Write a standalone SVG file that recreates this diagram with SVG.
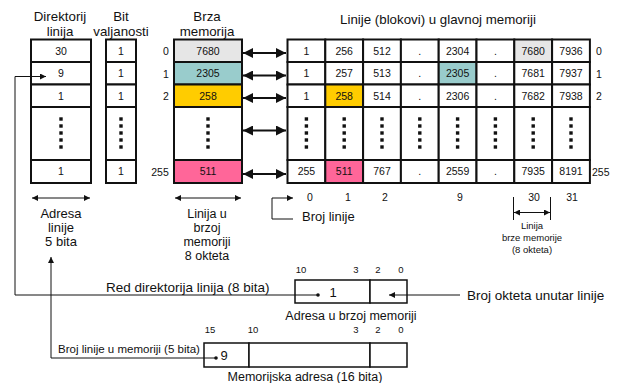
<svg xmlns="http://www.w3.org/2000/svg" width="621" height="383" viewBox="0 0 621 383">
  <style>
    text { font-family: "Liberation Sans", Arial, sans-serif; fill: #111; }
    .h { font-size: 13.3px; text-anchor: middle; }
    .c { font-size: 10.5px; text-anchor: middle; }
    .s { font-size: 9.5px; text-anchor: middle; }
    .l { font-size: 12.5px; }
    .m { text-anchor: middle; }
    .cell { fill: #fff; stroke: #111; stroke-width: 2; }
    .box { fill: #fff; stroke: #111; stroke-width: 1.5; }
    .thin { fill: none; stroke: #111; stroke-width: 1; }
    .dbl { fill: none; stroke: #111; stroke-width: 2; marker-start: url(#big); marker-end: url(#big); }
  </style>
  <defs>
    <marker id="big" viewBox="0 0 10 10" refX="10" refY="5" markerWidth="6" markerHeight="5" markerUnits="strokeWidth" orient="auto-start-reverse">
      <path d="M0,0 L10,5 L0,10 Z" fill="#111"/>
    </marker>
    <marker id="sm" viewBox="0 0 10 10" refX="10" refY="5" markerWidth="8" markerHeight="6" markerUnits="userSpaceOnUse" orient="auto-start-reverse">
      <path d="M0,0 L10,5 L0,10 Z" fill="#111"/>
    </marker>
    <!-- vertical ellipsis used in the gap rows -->
    <g id="vdots">
      <rect x="-1.7" y="-15.7" width="3.4" height="3.4" fill="#111"/>
      <rect x="-1.7" y="-8.7" width="3.4" height="3.4" fill="#111"/>
      <rect x="-1.7" y="-1.7" width="3.4" height="3.4" fill="#111"/>
      <rect x="-1.7" y="5.3" width="3.4" height="3.4" fill="#111"/>
      <rect x="-1.7" y="12.3" width="3.4" height="3.4" fill="#111"/>
    </g>
  </defs>

  <!-- column headings -->
  <g id="headings">
    <text class="h" x="60" y="21">Direktorij</text>
    <text class="h" x="60" y="36">linija</text>
    <text class="h" x="121" y="21">Bit</text>
    <text class="h" x="121" y="36">valjanosti</text>
    <text class="h" x="207" y="21">Brza</text>
    <text class="h" x="207" y="36">memorija</text>
    <text class="h" x="438" y="24">Linije (blokovi) u glavnoj memoriji</text>
  </g>

  <!-- line directory -->
  <g id="directory">
    <rect class="cell" x="31" y="39.5" width="60" height="22.5"/>
    <rect class="cell" x="31" y="62" width="60" height="22.5"/>
    <rect class="cell" x="31" y="84.5" width="60" height="22.5"/>
    <rect class="cell" x="31" y="107" width="60" height="53"/>
    <rect class="cell" x="31" y="160" width="60" height="23"/>
    <text class="c" x="61" y="54.5">30</text>
    <text class="c" x="61" y="77">9</text>
    <text class="c" x="61" y="99.5">1</text>
    <use href="#vdots" x="61" y="133"/>
    <text class="c" x="61" y="175">1</text>
  </g>

  <!-- valid bits -->
  <g id="valid">
    <rect class="cell" x="106" y="39.5" width="30" height="22.5"/>
    <rect class="cell" x="106" y="62" width="30" height="22.5"/>
    <rect class="cell" x="106" y="84.5" width="30" height="22.5"/>
    <rect class="cell" x="106" y="107" width="30" height="53"/>
    <rect class="cell" x="106" y="160" width="30" height="23"/>
    <text class="c" x="121" y="54.5">1</text>
    <text class="c" x="121" y="77">1</text>
    <text class="c" x="121" y="99.5">1</text>
    <use href="#vdots" x="121" y="133"/>
    <text class="c" x="121" y="175">1</text>
  </g>

  <!-- cache lines -->
  <g id="cache">
    <rect class="cell" x="174" y="39.5" width="68" height="22.5" style="fill:#e6e6e6"/>
    <rect class="cell" x="174" y="62" width="68" height="22.5" style="fill:#99cccc"/>
    <rect class="cell" x="174" y="84.5" width="68" height="22.5" style="fill:#ffcc00"/>
    <rect class="cell" x="174" y="107" width="68" height="53"/>
    <rect class="cell" x="174" y="160" width="68" height="23" style="fill:#ff6699"/>
    <text class="c" x="208" y="54.5">7680</text>
    <text class="c" x="208" y="77">2305</text>
    <text class="c" x="208" y="99.5">258</text>
    <use href="#vdots" x="208" y="133"/>
    <text class="c" x="208" y="175">511</text>
    <text class="c" x="166" y="55">0</text>
    <text class="c" x="166" y="77.5">1</text>
    <text class="c" x="166" y="100">2</text>
    <text class="c" x="160" y="175.5">255</text>
  </g>

  <!-- main memory blocks -->
  <g id="main-memory">
    <rect class="cell" x="287.5" y="39.5" width="37.8" height="22.5"/>
    <rect class="cell" x="287.5" y="62" width="37.8" height="22.5"/>
    <rect class="cell" x="287.5" y="84.5" width="37.8" height="22.5"/>
    <rect class="cell" x="287.5" y="107" width="37.8" height="53"/>
    <rect class="cell" x="287.5" y="160" width="37.8" height="23"/>

    <rect class="cell" x="325.3" y="39.5" width="37.8" height="22.5"/>
    <rect class="cell" x="325.3" y="62" width="37.8" height="22.5"/>
    <rect class="cell" x="325.3" y="84.5" width="37.8" height="22.5" style="fill:#ffcc00"/>
    <rect class="cell" x="325.3" y="107" width="37.8" height="53"/>
    <rect class="cell" x="325.3" y="160" width="37.8" height="23" style="fill:#ff6699"/>

    <rect class="cell" x="363.1" y="39.5" width="37.8" height="22.5"/>
    <rect class="cell" x="363.1" y="62" width="37.8" height="22.5"/>
    <rect class="cell" x="363.1" y="84.5" width="37.8" height="22.5"/>
    <rect class="cell" x="363.1" y="107" width="37.8" height="53"/>
    <rect class="cell" x="363.1" y="160" width="37.8" height="23"/>

    <rect class="cell" x="400.9" y="39.5" width="37.8" height="22.5"/>
    <rect class="cell" x="400.9" y="62" width="37.8" height="22.5"/>
    <rect class="cell" x="400.9" y="84.5" width="37.8" height="22.5"/>
    <rect class="cell" x="400.9" y="107" width="37.8" height="53"/>
    <rect class="cell" x="400.9" y="160" width="37.8" height="23"/>

    <rect class="cell" x="438.7" y="39.5" width="37.8" height="22.5"/>
    <rect class="cell" x="438.7" y="62" width="37.8" height="22.5" style="fill:#99cccc"/>
    <rect class="cell" x="438.7" y="84.5" width="37.8" height="22.5"/>
    <rect class="cell" x="438.7" y="107" width="37.8" height="53"/>
    <rect class="cell" x="438.7" y="160" width="37.8" height="23"/>

    <rect class="cell" x="476.5" y="39.5" width="37.8" height="22.5"/>
    <rect class="cell" x="476.5" y="62" width="37.8" height="22.5"/>
    <rect class="cell" x="476.5" y="84.5" width="37.8" height="22.5"/>
    <rect class="cell" x="476.5" y="107" width="37.8" height="53"/>
    <rect class="cell" x="476.5" y="160" width="37.8" height="23"/>

    <rect class="cell" x="514.3" y="39.5" width="37.8" height="22.5" style="fill:#e6e6e6"/>
    <rect class="cell" x="514.3" y="62" width="37.8" height="22.5"/>
    <rect class="cell" x="514.3" y="84.5" width="37.8" height="22.5"/>
    <rect class="cell" x="514.3" y="107" width="37.8" height="53"/>
    <rect class="cell" x="514.3" y="160" width="37.8" height="23"/>

    <rect class="cell" x="552.1" y="39.5" width="37.8" height="22.5"/>
    <rect class="cell" x="552.1" y="62" width="37.8" height="22.5"/>
    <rect class="cell" x="552.1" y="84.5" width="37.8" height="22.5"/>
    <rect class="cell" x="552.1" y="107" width="37.8" height="53"/>
    <rect class="cell" x="552.1" y="160" width="37.8" height="23"/>

    <!-- row 0 -->
    <text class="c" x="306.4" y="54.5">1</text>
    <text class="c" x="344.2" y="54.5">256</text>
    <text class="c" x="382" y="54.5">512</text>
    <text class="c" x="419.8" y="54.5">.</text>
    <text class="c" x="457.6" y="54.5">2304</text>
    <text class="c" x="495.4" y="54.5">.</text>
    <text class="c" x="533.2" y="54.5">7680</text>
    <text class="c" x="571" y="54.5">7936</text>
    <!-- row 1 -->
    <text class="c" x="306.4" y="77">1</text>
    <text class="c" x="344.2" y="77">257</text>
    <text class="c" x="382" y="77">513</text>
    <text class="c" x="419.8" y="77">.</text>
    <text class="c" x="457.6" y="77">2305</text>
    <text class="c" x="495.4" y="77">.</text>
    <text class="c" x="533.2" y="77">7681</text>
    <text class="c" x="571" y="77">7937</text>
    <!-- row 2 -->
    <text class="c" x="306.4" y="99.5">1</text>
    <text class="c" x="344.2" y="99.5">258</text>
    <text class="c" x="382" y="99.5">514</text>
    <text class="c" x="419.8" y="99.5">.</text>
    <text class="c" x="457.6" y="99.5">2306</text>
    <text class="c" x="495.4" y="99.5">.</text>
    <text class="c" x="533.2" y="99.5">7682</text>
    <text class="c" x="571" y="99.5">7938</text>
    <!-- gap rows -->
    <use href="#vdots" x="306.4" y="133"/>
    <use href="#vdots" x="344.2" y="133"/>
    <use href="#vdots" x="382" y="133"/>
    <use href="#vdots" x="419.8" y="133"/>
    <use href="#vdots" x="457.6" y="133"/>
    <use href="#vdots" x="495.4" y="133"/>
    <use href="#vdots" x="533.2" y="133"/>
    <use href="#vdots" x="571" y="133"/>
    <!-- row 255 -->
    <text class="c" x="306.4" y="175">255</text>
    <text class="c" x="344.2" y="175">511</text>
    <text class="c" x="382" y="175">767</text>
    <text class="c" x="419.8" y="175">.</text>
    <text class="c" x="457.6" y="175">2559</text>
    <text class="c" x="495.4" y="175">.</text>
    <text class="c" x="533.2" y="175">7935</text>
    <text class="c" x="571" y="175">8191</text>
    <!-- row numbers -->
    <text class="c" x="596" y="55" style="text-anchor:start">0</text>
    <text class="c" x="596" y="77.5" style="text-anchor:start">1</text>
    <text class="c" x="596" y="100" style="text-anchor:start">2</text>
    <text class="c" x="592" y="175.5" style="text-anchor:start">255</text>
    <!-- line numbers -->
    <text class="c" x="310" y="201">0</text>
    <text class="c" x="348" y="201">1</text>
    <text class="c" x="385" y="201">2</text>
    <text class="c" x="460" y="201">9</text>
    <text class="c" x="534" y="201">30</text>
    <text class="c" x="572" y="201">31</text>
  </g>

  <!-- field labels -->
  <g id="labels">
    <text class="l m" x="61" y="218" style="font-size:13px">Adresa</text>
    <text class="l m" x="61" y="232" style="font-size:13px">linije</text>
    <text class="l m" x="61" y="246" style="font-size:13px">5 bita</text>
    <text class="l m" x="207" y="218">Linija u</text>
    <text class="l m" x="207" y="232">brzoj</text>
    <text class="l m" x="207" y="246">memoriji</text>
    <text class="l m" x="207" y="260">8 okteta</text>
    <text class="l" x="302" y="221" style="font-size:13px">Broj linije</text>
    <text class="s" x="532" y="229">Linija</text>
    <text class="s" x="532" y="241">brze memorije</text>
    <text class="s" x="532" y="253">(8 okteta)</text>
  </g>

  <!-- cache address -->
  <g id="cache-address">
    <rect class="box" x="295" y="280" width="75" height="23"/>
    <rect class="box" x="370" y="280" width="37" height="23"/>
    <text class="s" x="301" y="273">10</text>
    <text class="s" x="356" y="273">3</text>
    <text class="s" x="378" y="273">2</text>
    <text class="s" x="401" y="273">0</text>
    <circle cx="318" cy="295" r="1.8" fill="#111"/>
    <text class="l m" x="333" y="297" style="font-size:13px">1</text>
    <text class="l m" x="351" y="320">Adresa u brzoj memoriji</text>
    <text class="l" x="106" y="292" style="font-size:13.5px">Red direktorija linija (8 bita)</text>
    <text class="l" x="467" y="300" style="font-size:13.5px">Broj okteta unutar linije</text>
  </g>

  <!-- memory address -->
  <g id="memory-address">
    <rect class="box" x="204" y="343" width="45" height="24"/>
    <rect class="box" x="249" y="343" width="121" height="24"/>
    <rect class="box" x="370" y="343" width="37" height="24"/>
    <text class="s" x="210" y="333">15</text>
    <text class="s" x="253" y="333">10</text>
    <text class="s" x="356" y="333">3</text>
    <text class="s" x="378" y="333">2</text>
    <text class="s" x="401" y="333">0</text>
    <circle cx="216" cy="358" r="1.8" fill="#111"/>
    <text class="l m" x="224" y="360" style="font-size:13px">9</text>
    <text class="l" x="58" y="353" style="font-size:11.5px">Broj linije u memoriji (5 bita)</text>
    <text class="l m" x="305" y="381">Memorijska adresa (16 bita)</text>
  </g>

  <!-- connectors -->
  <g id="connectors">
    <line class="dbl" x1="243" y1="53" x2="286" y2="53"/>
    <line class="dbl" x1="243" y1="75.5" x2="286" y2="75.5"/>
    <line class="dbl" x1="243" y1="98" x2="286" y2="98"/>
    <line class="dbl" x1="243" y1="130.5" x2="286" y2="130.5"/>
    <line class="dbl" x1="243" y1="174" x2="286" y2="174"/>

    <line class="thin" x1="32" y1="198" x2="90" y2="198" marker-start="url(#sm)" marker-end="url(#sm)"/>
    <line class="thin" x1="175" y1="198" x2="241" y2="198" marker-start="url(#sm)" marker-end="url(#sm)"/>
    <path class="thin" d="M293,219 H272 V198 H293" marker-end="url(#sm)"/>
    <line class="thin" x1="513.5" y1="197" x2="513.5" y2="220"/>
    <line class="thin" x1="550.5" y1="197" x2="550.5" y2="220"/>
    <line class="thin" x1="514" y1="212.5" x2="550" y2="212.5" marker-start="url(#sm)" marker-end="url(#sm)"/>

    <path class="thin" d="M318,295 H15 V76.5 H46" marker-end="url(#sm)"/>
    <path class="thin" d="M216,358 H51 V257" marker-end="url(#sm)"/>
    <line class="thin" x1="460" y1="295" x2="389" y2="295" marker-end="url(#sm)"/>
  </g>
</svg>
